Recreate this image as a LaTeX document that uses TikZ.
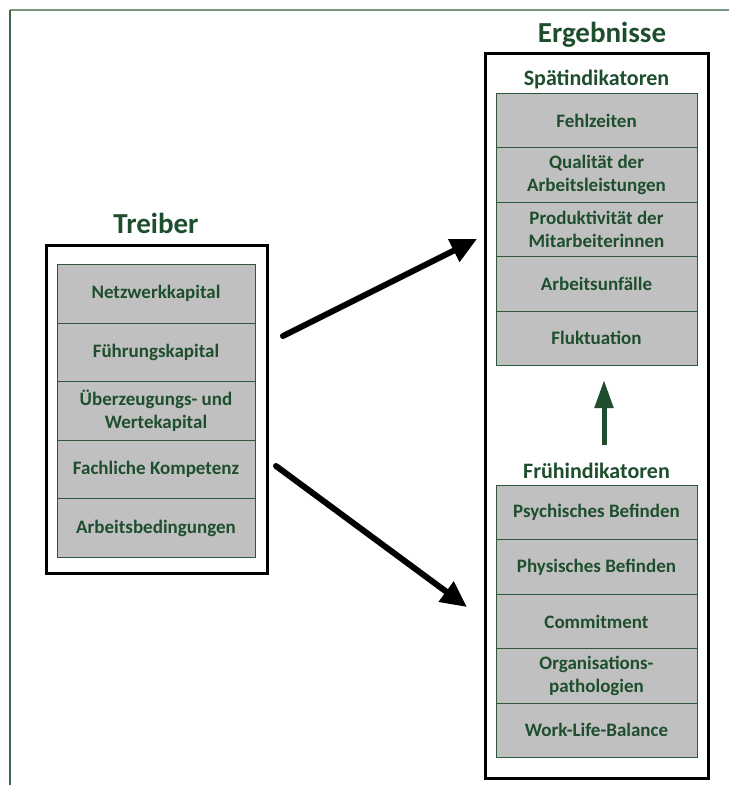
\documentclass[tikz,border=0pt]{standalone}
\usepackage{fontspec}
\setmainfont{Carlito}
\usetikzlibrary{arrows.meta}
\definecolor{dg}{RGB}{30,78,45}
\definecolor{fillg}{RGB}{192,192,192}
\definecolor{edgeg}{RGB}{45,88,58}
\definecolor{pagetop}{RGB}{120,150,128}
\definecolor{pageleft}{RGB}{58,106,74}
\begin{document}
\begin{tikzpicture}[x=1pt,y=-1pt,
  cell/.style={draw=edgeg, fill=fillg, line width=0.9pt, inner sep=0pt, align=center,
    font=\fontsize{19}{23}\selectfont\bfseries, text=dg, anchor=north},
  tcell/.style={cell, minimum width=198pt, minimum height=58.6pt},
  rcell/.style={cell, minimum width=201pt, minimum height=54.4pt},
  bigtitle/.style={font=\fontsize{29}{34}\selectfont\bfseries, text=dg, anchor=base, inner sep=0pt},
  subtitle/.style={font=\fontsize{22}{26}\selectfont\bfseries, text=dg, anchor=base, inner sep=0pt},
  frame/.style={draw=black, line width=3pt},
  bigarrow/.style={draw=black, line width=6pt, line cap=round, -{Triangle[length=26pt,width=24pt]}},
  greenarrow/.style={draw=dg, line width=5pt, -{Triangle[length=28pt,width=18pt]}}
]
\useasboundingbox (0,0) rectangle (729,785);
% page border
\draw[pagetop, line width=1.6pt] (10,10) -- (729,10);
\draw[pageleft, line width=1.6pt] (10,10) -- (10,785);

% Treiber
\draw[frame] (46,245) rectangle (267,573);
\node[bigtitle] (treiber) at (156,233) {Treiber};
\node[tcell] (t1) at (156,264) {Netzwerkkapital};
\node[tcell] (t2) at (156,322.6) {Führungskapital};
\node[tcell] (t3) at (156,381.2) {Überzeugungs- und\\Wertekapital};
\node[tcell] (t4) at (156,439.8) {Fachliche Kompetenz};
\node[tcell] (t5) at (156,498.4) {Arbeitsbedingungen};

% Ergebnisse
\draw[frame] (485,53) rectangle (708,778);
\node[bigtitle] (erg) at (602,42) {Ergebnisse};
\node[subtitle] (spaet) at (596.5,85) {Spätindikatoren};
\node[rcell] (s1) at (596.5,93) {Fehlzeiten};
\node[rcell] (s2) at (596.5,147.4) {Qualität der\\Arbeitsleistungen};
\node[rcell] (s3) at (596.5,201.8) {Produktivität der\\Mitarbeiterinnen};
\node[rcell] (s4) at (596.5,256.2) {Arbeitsunfälle};
\node[rcell] (s5) at (596.5,310.6) {Fluktuation};

\node[subtitle] (frueh) at (596.5,478) {Frühindikatoren};
\node[rcell] (f1) at (596.5,485) {Psychisches Befinden};
\node[rcell] (f2) at (596.5,539.4) {Physisches Befinden};
\node[rcell] (f3) at (596.5,593.8) {Commitment};
\node[rcell] (f4) at (596.5,648.2) {Organisations-\\pathologien};
\node[rcell] (f5) at (596.5,702.6) {Work-Life-Balance};

% arrows
\coordinate (a1s) at (283,336);
\coordinate (a1e) at (477,239);
\coordinate (a2s) at (276,466);
\coordinate (a2e) at (467,607);
\coordinate (gs) at (604,445);
\coordinate (ge) at (604,380);
\draw[bigarrow] (a1s) -- (a1e);
\draw[bigarrow] (a2s) -- (a2e);
\draw[greenarrow] (gs) -- (ge);
\end{tikzpicture}
\end{document}
